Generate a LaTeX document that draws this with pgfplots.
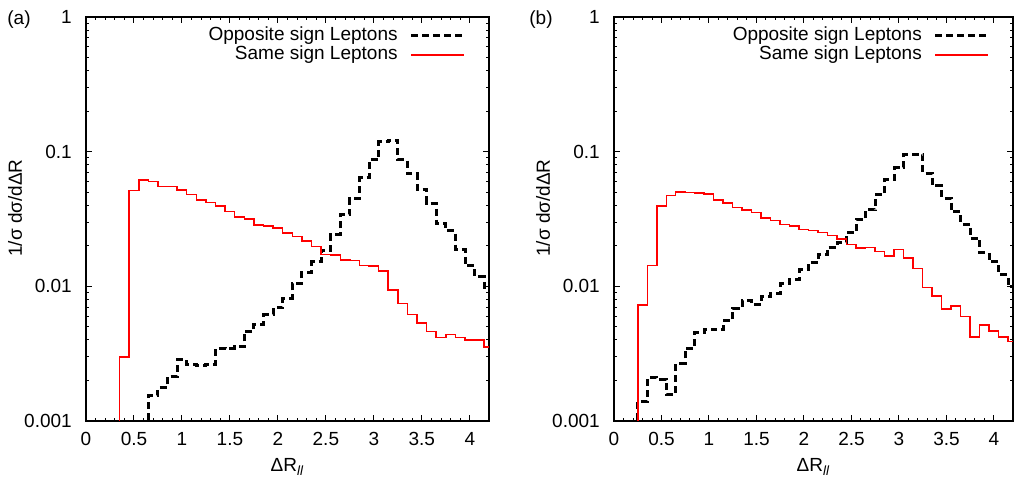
\documentclass[border=0pt]{standalone}
\usepackage{pgfplots}
\pgfplotsset{compat=1.18}
\usepackage{fontspec}
\setmainfont{Liberation Sans}

% 1 px of the reference = 0.5pt
\pgfplotsset{
  legend image code/.code={\draw[#1] (0pt,0pt) -- (26.5pt,0pt);},
  os/.style={black, line width=1.5pt, dash pattern=on 3.5pt off 2pt, const plot mark mid},
  ss/.style={red, line width=0.75pt, const plot mark mid},
}

\begin{document}
\begin{tikzpicture}[font=\fontsize{9.5}{11.4}\selectfont]

\begin{axis}[scale only axis, width=201.5pt, height=202pt,
    at={(43pt,30pt)}, anchor=south west,
    xmin=0, xmax=4.2, ymin=0.001, ymax=1, ymode=log,
    xtick={0,0.5,...,4}, minor x tick num=4,
    ytick={0.001,0.01,0.1,1}, yticklabels={0.001,0.01,0.1,1},
    major tick length=3pt, minor tick length=1.6pt,
    tick align=inside, tick style={black, line width=0.5pt},
    axis line style={line width=0.6pt},
    /pgf/number format/assume math mode=true,
    xticklabel style={yshift=-2.3pt},
    yticklabel style={xshift=-3.6pt},
    xlabel={ΔR\textsubscript{\textit{ll}}},
    ylabel={1/σ dσ/dΔR},
    xlabel style={at={(axis description cs:0.5,-0.114)}, anchor=center},
    ylabel style={at={(axis description cs:-0.176,0.527)}, anchor=center},
    legend plot pos=right, legend cell align=right,
    legend style={draw=none, fill=none, inner sep=0pt, column sep=6pt,
      nodes={inner sep=0pt, text height=7.2pt, text depth=2.3pt},
      at={(axis description cs:0.943,0.978)}, anchor=north east}]
\addplot[os] coordinates {
(0.6,1e-5)(0.7,0.00154)(0.8,0.00177)(0.9,0.00214)(1.0,0.00284)(1.1,0.00261)
(1.2,0.00257)(1.3,0.00264)(1.4,0.00347)(1.5,0.00345)(1.6,0.00355)(1.7,0.00464)
(1.8,0.0052)(1.9,0.00613)(2.0,0.00691)(2.1,0.00815)(2.2,0.0105)(2.3,0.01265)
(2.4,0.0152)(2.5,0.0186)(2.6,0.0244)(2.7,0.0339)(2.8,0.0451)(2.9,0.0641)
(3.0,0.0868)(3.1,0.1186)(3.2,0.122)(3.3,0.0868)(3.4,0.0683)(3.5,0.0525)
(3.6,0.0414)(3.7,0.0291)(3.8,0.0258)(3.9,0.0189)(4.0,0.0142)(4.1,0.0118)(4.2,0.00985)};
\addlegendentry{Opposite sign Leptons}
\addplot[ss] coordinates {
(0.3,1e-5)(0.4,0.00298)(0.5,0.0514)(0.6,0.0617)(0.7,0.060)(0.8,0.0553)(0.9,0.055)
(1.0,0.052)(1.1,0.048)(1.2,0.0438)(1.3,0.0418)(1.4,0.0395)(1.5,0.0359)(1.6,0.0326)
(1.7,0.0316)(1.8,0.0286)(1.9,0.0281)(2.0,0.027)(2.1,0.0248)(2.2,0.0235)(2.3,0.0218)
(2.4,0.0197)(2.5,0.0173)(2.6,0.0171)(2.7,0.0157)(2.8,0.0156)(2.9,0.0143)(3.0,0.0142)
(3.1,0.0130)(3.2,0.0094)(3.3,0.00748)(3.4,0.0062)(3.5,0.00535)(3.6,0.00461)
(3.7,0.00416)(3.8,0.0044)(3.9,0.00416)(4.0,0.0040)(4.1,0.0040)(4.2,0.00353)};
\addlegendentry{Same sign Leptons}
\end{axis}

\begin{axis}[scale only axis, width=199.5pt, height=202pt,
    at={(307pt,30pt)}, anchor=south west,
    xmin=0, xmax=4.2, ymin=0.001, ymax=1, ymode=log,
    xtick={0,0.5,...,4}, minor x tick num=4,
    ytick={0.001,0.01,0.1,1}, yticklabels={0.001,0.01,0.1,1},
    major tick length=3pt, minor tick length=1.6pt,
    tick align=inside, tick style={black, line width=0.5pt},
    axis line style={line width=0.6pt},
    /pgf/number format/assume math mode=true,
    xticklabel style={yshift=-2.3pt},
    yticklabel style={xshift=-3.6pt},
    xlabel={ΔR\textsubscript{\textit{ll}}},
    ylabel={1/σ dσ/dΔR},
    xlabel style={at={(axis description cs:0.5,-0.114)}, anchor=center},
    ylabel style={at={(axis description cs:-0.178,0.527)}, anchor=center},
    legend plot pos=right, legend cell align=right,
    legend style={draw=none, fill=none, inner sep=0pt, column sep=6pt,
      nodes={inner sep=0pt, text height=7.2pt, text depth=2.3pt},
      at={(axis description cs:0.943,0.978)}, anchor=north east}]
\addplot[os] coordinates {
(0.2,1e-5)(0.3,0.0014)(0.4,0.00211)(0.5,0.00205)(0.6,0.00158)(0.7,0.00269)
(0.8,0.00347)(0.9,0.00453)(1.0,0.0048)(1.1,0.00474)(1.2,0.00554)(1.3,0.00688)
(1.4,0.0078)(1.5,0.00728)(1.6,0.0084)(1.7,0.0088)(1.8,0.01054)(1.9,0.01115)
(2.0,0.0134)(2.1,0.015)(2.2,0.0171)(2.3,0.0195)(2.4,0.0212)(2.5,0.025)
(2.6,0.0315)(2.7,0.0369)(2.8,0.0477)(2.9,0.0617)(3.0,0.076)(3.1,0.0945)
(3.2,0.0955)(3.3,0.069)(3.4,0.056)(3.5,0.0451)(3.6,0.0359)(3.7,0.029)
(3.8,0.0228)(3.9,0.0178)(4.0,0.0152)(4.1,0.0122)(4.2,0.00995)};
\addlegendentry{Opposite sign Leptons}
\addplot[ss] coordinates {
(0.2,1e-5)(0.3,0.00728)(0.4,0.01425)(0.5,0.0395)(0.6,0.0474)(0.7,0.0502)
(0.8,0.0497)(0.9,0.0495)(1.0,0.0485)(1.1,0.0438)(1.2,0.0414)(1.3,0.0386)
(1.4,0.0369)(1.5,0.0352)(1.6,0.0323)(1.7,0.0307)(1.8,0.0289)(1.9,0.0281)
(2.0,0.0265)(2.1,0.026)(2.2,0.0252)(2.3,0.0238)(2.4,0.0225)(2.5,0.0205)
(2.6,0.0192)(2.7,0.0194)(2.8,0.0181)(2.9,0.0168)(3.0,0.0188)(3.1,0.0163)
(3.2,0.0136)(3.3,0.00984)(3.4,0.0085)(3.5,0.00676)(3.6,0.00716)(3.7,0.00596)
(3.8,0.00419)(3.9,0.00517)(4.0,0.00466)(4.1,0.00419)(4.2,0.00389)};
\addlegendentry{Same sign Leptons}
\end{axis}

\node at (9.5pt,230.5pt) {(a)};
\node at (270.5pt,230.5pt) {(b)};

\pgfresetboundingbox
\useasboundingbox (0,0) rectangle (507pt,240.5pt);
\end{tikzpicture}
\end{document}
